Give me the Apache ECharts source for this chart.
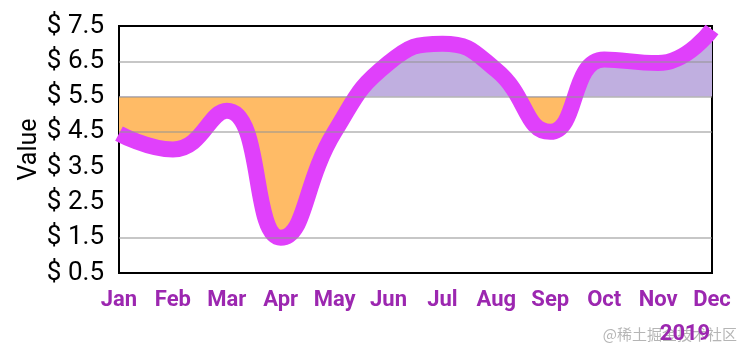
<!DOCTYPE html>
<html>
<head>
<meta charset="utf-8">
<script src="https://cdn.jsdelivr.net/npm/echarts@6/dist/echarts.min.js"></script>
<style>html,body{margin:0;padding:0;background:#fff}#c{width:751px;height:360px}</style>
</head>
<body>
<div id="c"></div>
<script>
const months = ['Jan','Feb','Mar','Apr','May','Jun','Jul','Aug','Sep','Oct','Nov','Dec'];
const values = [4.45, 4.0, 5.1, 1.5, 4.5, 6.45, 7.0, 6.25, 4.5, 6.55, 6.45, 7.4];
const baseline = 5.5;
const yMin = 0.5, yMax = 7.5, yStep = 1;
const yGridValues = [1.5, 4.5, 5.5, 6.5];
const xAxisName = '2019';
const yAxisName = 'Value';

const ABOVE = '#C0AFE0';
const BELOW = '#FFBB66';

const chart = echarts.init(document.getElementById('c'), null, {renderer: 'canvas'});
chart.setOption({
  animation: false,
  backgroundColor: '#fff',
  grid: {left: 119, right: 39, top: 26, bottom: 87, show: true, borderColor: '#000', borderWidth: 2, backgroundColor: 'transparent'},
  xAxis: {
    type: 'category', data: months, boundaryGap: false,
    axisLine: {show: true, lineStyle: {color: '#000', width: 2}},
    axisTick: {show: false},
    splitLine: {show: false},
    axisLabel: {interval: 0, color: '#9C27B0', fontWeight: 'bold', fontSize: 22, fontFamily: 'Roboto', margin: 16},
    name: xAxisName, nameLocation: 'end', nameGap: -27,
    nameTextStyle: {color: '#9C27B0', fontWeight: 'bold', fontSize: 22, fontFamily: 'Roboto', align: 'center', verticalAlign: 'top', padding: [50, 0, 0, 0]}
  },
  yAxis: {
    type: 'value', min: yMin, max: yMax, interval: yStep,
    axisLine: {show: true, lineStyle: {color: '#000', width: 2}},
    axisTick: {show: false},
    splitLine: {show: false},
    axisLabel: {color: '#000', fontSize: 26, fontFamily: 'Roboto', margin: 15,
      formatter: v => '$ ' + Number(v).toFixed(1)},
    name: yAxisName, nameLocation: 'middle', nameGap: 77, nameMoveOverlap: false,
    nameTextStyle: {color: '#000', fontSize: 25, fontFamily: 'Roboto'}
  },
  series: [
    {
      type: 'line', data: values, smooth: 0.5, symbol: 'none',
      lineStyle: {width: 0},
      areaStyle: {origin: baseline, color: BELOW, opacity: 1},
      markLine: {
        silent: true, symbol: 'none', label: {show: false},
        lineStyle: {color: 'rgba(150,150,150,0.7)', type: 'solid', width: 1.5},
        data: yGridValues.map(v => ({yAxis: v}))
      },
      z: 1
    },
    {
      type: 'line', data: values, smooth: 0.5, symbol: 'none', clip: false,
      lineStyle: {color: '#E040FB', width: 16},
      z: 3
    }
  ],
  graphic: [{
    type: 'text', right: 14, bottom: 18, z: 0,
    style: {text: '@稀土掘金技术社区', fill: 'rgba(120,120,120,0.55)', fontSize: 15, fontFamily: 'Noto Sans CJK SC'}
  }]
});

const yb = chart.convertToPixel({yAxisIndex: 0}, baseline);
const H = chart.getHeight();
const p = Math.min(1, Math.max(0, yb / H));
chart.setOption({
  series: [{
    areaStyle: {
      origin: baseline, opacity: 1,
      color: new echarts.graphic.LinearGradient(0, 0, 0, H, [
        {offset: 0, color: ABOVE}, {offset: p, color: ABOVE},
        {offset: p, color: BELOW}, {offset: 1, color: BELOW}
      ], true)
    }
  }]
});
</script>
</body>
</html>
